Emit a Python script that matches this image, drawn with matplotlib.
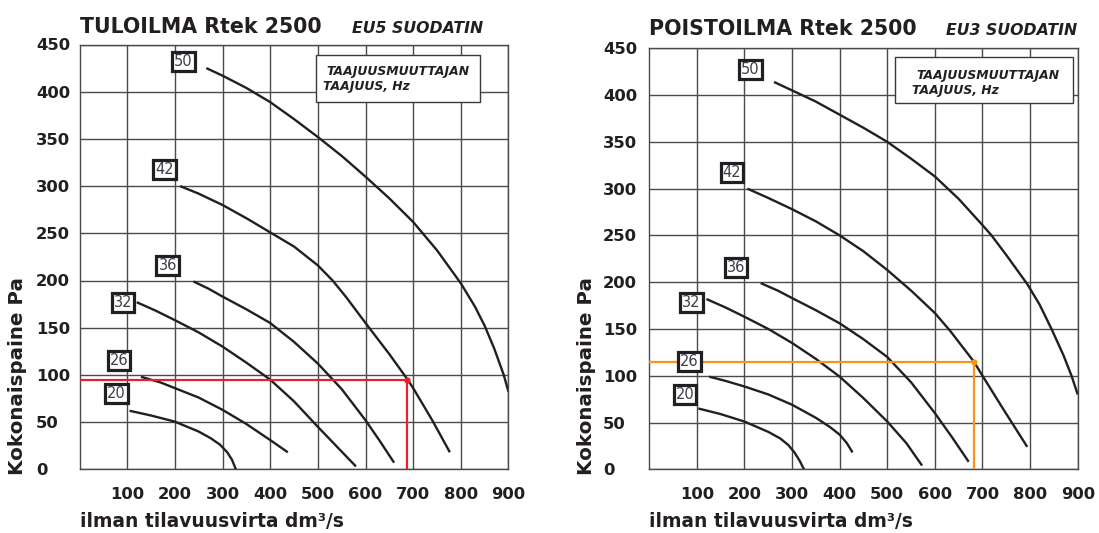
import matplotlib
matplotlib.use("Agg")
import matplotlib.pyplot as plt
from matplotlib.patches import Rectangle

plt.rcParams['font.family'] = ['DejaVu Sans']

W, H = 1099, 533

# ---------------- data ----------------
flow_ticks = [100, 200, 300, 400, 500, 600, 700, 800, 900]
pressure_ticks = [0, 50, 100, 150, 200, 250, 300, 350, 400, 450]
freq_labels = ["50", "42", "36", "32", "26", "20"]

# TULOILMA (supply air) curves: flow dm3/s, pressure Pa
sup_50_q = [266, 300, 350, 400, 450, 500, 550, 600, 650, 700, 750, 800, 830, 850, 870, 890, 900]
sup_50_p = [425, 417, 404, 389, 371, 352, 332, 310, 287, 262, 232, 197, 172, 152, 128, 100, 82]
sup_42_q = [211, 250, 300, 350, 400, 450, 500, 531, 560, 600, 650, 687, 700, 740, 777]
sup_42_p = [300, 292, 280, 266, 251, 236, 216, 200, 182, 155, 122, 96, 86, 52, 18]
sup_36_q = [239, 270, 300, 350, 400, 450, 500, 550, 600, 630, 660]
sup_36_p = [199, 191.5, 183, 169.5, 155, 135, 112, 85, 52, 30, 7]
sup_32_q = [120, 160, 200, 250, 300, 350, 400, 450, 500, 540, 580]
sup_32_p = [177, 168, 158, 145, 130, 113, 95, 72, 45, 24, 3]
sup_26_q = [129, 170, 200, 250, 300, 350, 400, 420, 437]
sup_26_p = [98, 92, 86, 76, 63, 48, 31, 24, 18]
sup_20_q = [105, 150, 200, 250, 275, 295, 310, 320, 328]
sup_20_p = [62, 57, 50.5, 40, 33, 26, 18, 10, 0]
sup_op_q, sup_op_p = 687, 95

# POISTOILMA (exhaust air) curves
exh_50_q = [262, 300, 350, 400, 450, 500, 550, 600, 650, 700, 719, 750, 794, 820, 845, 870, 887, 900]
exh_50_p = [414, 405, 393, 379, 365, 350, 332, 313, 289, 261, 250, 229, 198, 176, 150, 122, 100, 80]
exh_42_q = [206, 250, 300, 350, 400, 450, 500, 550, 600, 632, 682, 700, 744, 794]
exh_42_p = [300, 290, 278, 265, 250, 233, 213, 191, 167, 148, 115, 100, 64, 24]
exh_36_q = [234, 270, 300, 350, 400, 450, 500, 550, 600, 635, 671]
exh_36_p = [199, 191, 183, 170, 156, 139, 120, 93, 60, 35, 8]
exh_32_q = [120, 160, 200, 250, 300, 350, 400, 450, 500, 540, 573]
exh_32_p = [182, 173, 163, 150, 135, 118, 99, 76, 51, 28, 4]
exh_26_q = [126, 160, 200, 250, 300, 350, 380, 400, 415, 427]
exh_26_p = [99, 94.5, 88.5, 80, 69, 55, 45, 37, 28, 18]
exh_20_q = [103, 150, 200, 250, 275, 292, 305, 316, 325]
exh_20_p = [65, 59, 51, 40, 33, 26, 18, 9, 0]
exh_op_q, exh_op_p = 682, 115

# curve label box anchor positions (data coordinates)
sup_lab_q = [218, 178, 185, 91, 83, 77]
sup_lab_p = [432, 318, 216, 177, 115, 80]
exh_lab_q = [212, 174, 182, 89, 84, 75]
exh_lab_p = [427, 317, 216, 178, 115, 80]

# ---------------- figure ----------------
fig = plt.figure(figsize=(W / 100, H / 100), dpi=100)

def fx(x):
    return x / W

def fy(y):
    return 1 - y / H

GRID = '#4a4a4a'
CURVE = '#231f20'

def make_ax(rect, ylab_pad_px):
    ax = fig.add_axes(rect)
    ax.set_xlim(0, 900)
    ax.set_ylim(0, 450)
    ax.set_xticks(flow_ticks)
    ax.set_xticklabels([str(v) for v in flow_ticks])
    ax.set_yticks(pressure_ticks)
    ax.set_yticklabels([str(v) for v in pressure_ticks])
    ax.grid(True, color=GRID, linewidth=1.0)
    ax.set_axisbelow(True)
    for s in ax.spines.values():
        s.set_color(GRID)
        s.set_linewidth(1.0)
    ax.tick_params(axis='both', length=0, labelsize=11.8, colors='#231f20')
    ax.tick_params(axis='x', pad=13)
    ax.tick_params(axis='y', pad=ylab_pad_px * 0.72)
    for t in ax.get_yticklabels():
        t.set_horizontalalignment('left')
        t.set_fontweight('bold')
    for t in ax.get_xticklabels():
        t.set_fontweight('bold')
    return ax

axL = make_ax([fx(79.5), (H - 469.3) / H, 429 / W, 424.8 / H], 79.5 - 36)
axR = make_ax([fx(649.3), (H - 469.3) / H, 428.4 / W, 421 / H], 649.3 - 603)

def draw_chart(ax, curves, op_q, op_p, op_color, lab_q, lab_p):
    for q, p in curves:
        ax.plot(q, p, color=CURVE, linewidth=1.7, solid_capstyle='butt',
                solid_joinstyle='round', zorder=3)
    ax.plot([0, op_q, op_q], [op_p, op_p, 0], color=op_color, linewidth=1.6, zorder=4)
    ax.plot([op_q], [op_p], 'o', color=op_color, markersize=3.5, zorder=5)
    for lab, q, p in zip(freq_labels, lab_q, lab_p):
        ax.text(q, p, lab, ha='center', va='center', fontsize=10.5, color='#3d3d4d',
                zorder=6,
                bbox=dict(boxstyle='square,pad=0.14', fc='white', ec=CURVE, lw=2.3))

draw_chart(axL,
           [(sup_50_q, sup_50_p), (sup_42_q, sup_42_p), (sup_36_q, sup_36_p),
            (sup_32_q, sup_32_p), (sup_26_q, sup_26_p), (sup_20_q, sup_20_p)],
           sup_op_q, sup_op_p, '#e8202a', sup_lab_q, sup_lab_p)
draw_chart(axR,
           [(exh_50_q, exh_50_p), (exh_42_q, exh_42_p), (exh_36_q, exh_36_p),
            (exh_32_q, exh_32_p), (exh_26_q, exh_26_p), (exh_20_q, exh_20_p)],
           exh_op_q, exh_op_p, '#f7941d', exh_lab_q, exh_lab_p)

# legend-like boxes
def legend_box(x0, y0, x1, y1, t1x, t1y, t2x, t2y):
    fig.patches.append(Rectangle((fx(x0), fy(y1)), fx(x1) - fx(x0), fy(y0) - fy(y1),
                                 transform=fig.transFigure, fc='white', ec='#3a3a3a',
                                 lw=1.0, zorder=10))
    fig.text(fx(t1x), fy(t1y), 'TAAJUUSMUUTTAJAN', fontsize=8.9, fontweight='bold',
             fontstyle='italic', color='#231f20', va='baseline', ha='left', zorder=11)
    fig.text(fx(t2x), fy(t2y), 'TAAJUUS, Hz', fontsize=8.9, fontweight='bold',
             fontstyle='italic', color='#231f20', va='baseline', ha='left', zorder=11)

legend_box(316, 55, 480, 102.3, 326.7, 75, 322.7, 90)
legend_box(895, 56.7, 1073.3, 103.3, 916, 79.3, 911.7, 94)

# titles
fig.text(fx(80), fy(33), 'TULOILMA Rtek 2500', fontsize=14.8, fontweight='bold',
         color='#231f20', va='baseline', ha='left')
fig.text(fx(352), fy(33), 'EU5 SUODATIN', fontsize=11.3, fontweight='bold',
         fontstyle='italic', color='#231f20', va='baseline', ha='left')
fig.text(fx(649), fy(35), 'POISTOILMA Rtek 2500', fontsize=14.8, fontweight='bold',
         color='#231f20', va='baseline', ha='left')
fig.text(fx(946), fy(35), 'EU3 SUODATIN', fontsize=11.3, fontweight='bold',
         fontstyle='italic', color='#231f20', va='baseline', ha='left')

# axis labels
for ax, lx, by in [(axL, 18, 475), (axR, 587, 475)]:
    ax.set_xlabel('ilman tilavuusvirta dm³/s', loc='left', fontsize=13.4,
                  fontweight='bold', color='#231f20', labelpad=7)
    fig.text(fx(lx), fy(by), 'Kokonaispaine Pa', rotation=90, ha='center', va='bottom',
             fontsize=14.3, fontweight='bold', color='#231f20')

fig.savefig('out.png', dpi=100, facecolor='white')
